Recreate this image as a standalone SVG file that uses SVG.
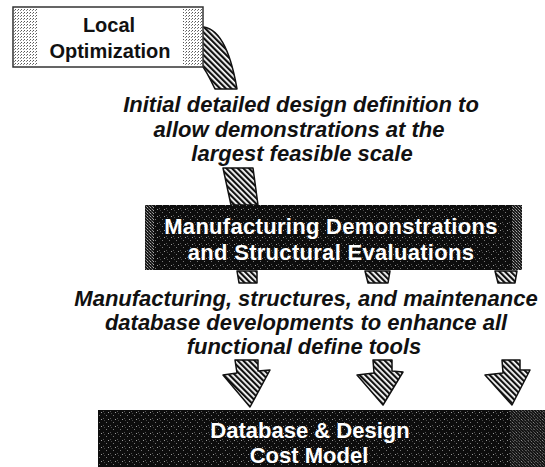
<svg xmlns="http://www.w3.org/2000/svg" width="545" height="467" viewBox="0 0 545 467">
<defs>
<pattern id="hatch" width="4" height="4" patternUnits="userSpaceOnUse" patternTransform="rotate(-45)"><rect width="4" height="4" fill="#fff"/><rect width="2.2" height="4" fill="#111"/></pattern>
<pattern id="dark" width="7" height="7" patternUnits="userSpaceOnUse"><rect width="7" height="7" fill="#0d0d0d"/><rect x="1" y="2" width="1" height="1" fill="#777"/><rect x="5" y="5" width="1" height="1" fill="#555"/><rect x="3" y="6" width="1" height="1" fill="#999"/><rect x="6" y="0" width="1" height="1" fill="#444"/></pattern>
<pattern id="light" width="3" height="3" patternUnits="userSpaceOnUse"><rect width="3" height="3" fill="#fff"/><rect width="1" height="1" fill="#555"/><rect x="2" y="1" width="1" height="1" fill="#888"/></pattern>
<pattern id="mid" width="3" height="3" patternUnits="userSpaceOnUse"><rect width="3" height="3" fill="#1a1a1a"/><rect width="1" height="1" fill="#aaa"/><rect x="2" y="2" width="1" height="1" fill="#888"/><rect x="1" y="1" width="1" height="1" fill="#555"/></pattern>
</defs>
<style>
.band{fill:url(#hatch);stroke:#111;stroke-width:1.5;stroke-linejoin:round}
.t{font-family:"Liberation Sans",Arial,Helvetica,sans-serif;font-weight:bold;text-anchor:middle}
.blk{fill:#111;font-size:20px}
.cap{fill:#111;font-size:22px;font-style:italic}
.inv{fill:#fff;font-size:22px}
</style>
<g id="connectors">
<path class="band" d="M198,27 C222,24 232,60 237,89 L215,89 C209,76 203,66 198,60 Z"/>
<path class="band" d="M223,168 L253,168 L258,205 L231,205 Z"/>
<path class="band" d="M237,271 L257,271 L257,283 L239,283 Z"/>
<path class="band" d="M365,271 L390,271 L388,283 L368,283 Z"/>
<path class="band" d="M495,271 L517,271 L515,283 L498,283 Z"/>
<path class="band" d="M235,360 L258,360 L258,371 L270,370 L250,407 L223,375 L237,373 Z"/>
<path class="band" d="M373,360 L392,360 L392,371 L403,372 L383,405 L357,375 L374,373 Z"/>
<path class="band" d="M502,360 L520,360 L520,370 L530,370 L512,405 L485,375 L503,373 Z"/>
</g>
<g id="node-local">
<rect x="13" y="7" width="190" height="60" fill="#fff" stroke="#333" stroke-width="1.5"/>
<rect x="14" y="8" width="23" height="58" fill="url(#light)"/>
<rect x="183" y="8" width="19" height="58" fill="url(#light)"/>
<text class="t blk" x="109" y="32">Local</text>
<text class="t blk" x="110" y="58">Optimization</text>
</g>
<g id="label-initial">
<text class="t cap" x="301" y="112">Initial detailed design definition to</text>
<text class="t cap" x="299" y="137">allow demonstrations at the</text>
<text class="t cap" x="302" y="161">largest feasible scale</text>
</g>
<g id="node-manufacturing">
<rect x="145" y="205" width="377" height="65" fill="url(#dark)"/>
<rect x="145" y="205" width="9" height="65" fill="url(#mid)"/>
<rect x="512" y="205" width="10" height="65" fill="url(#mid)"/>
<text class="t inv" x="331" y="234" letter-spacing="0.3">Manufacturing Demonstrations</text>
<text class="t inv" x="331" y="260" letter-spacing="0.3">and Structural Evaluations</text>
</g>
<g id="label-database">
<text class="t cap" x="306" y="306">Manufacturing, structures, and maintenance</text>
<text class="t cap" x="306" y="330">database developments to enhance all</text>
<text class="t cap" x="304" y="354">functional define tools</text>
</g>
<g id="node-database">
<rect x="98" y="410" width="447" height="57" fill="url(#dark)"/>
<rect x="510" y="410" width="35" height="57" fill="url(#mid)" opacity="0.5"/>
<text class="t inv" x="310" y="438">Database &amp; Design</text>
<text class="t inv" x="309" y="463">Cost Model</text>
</g>
</svg>
